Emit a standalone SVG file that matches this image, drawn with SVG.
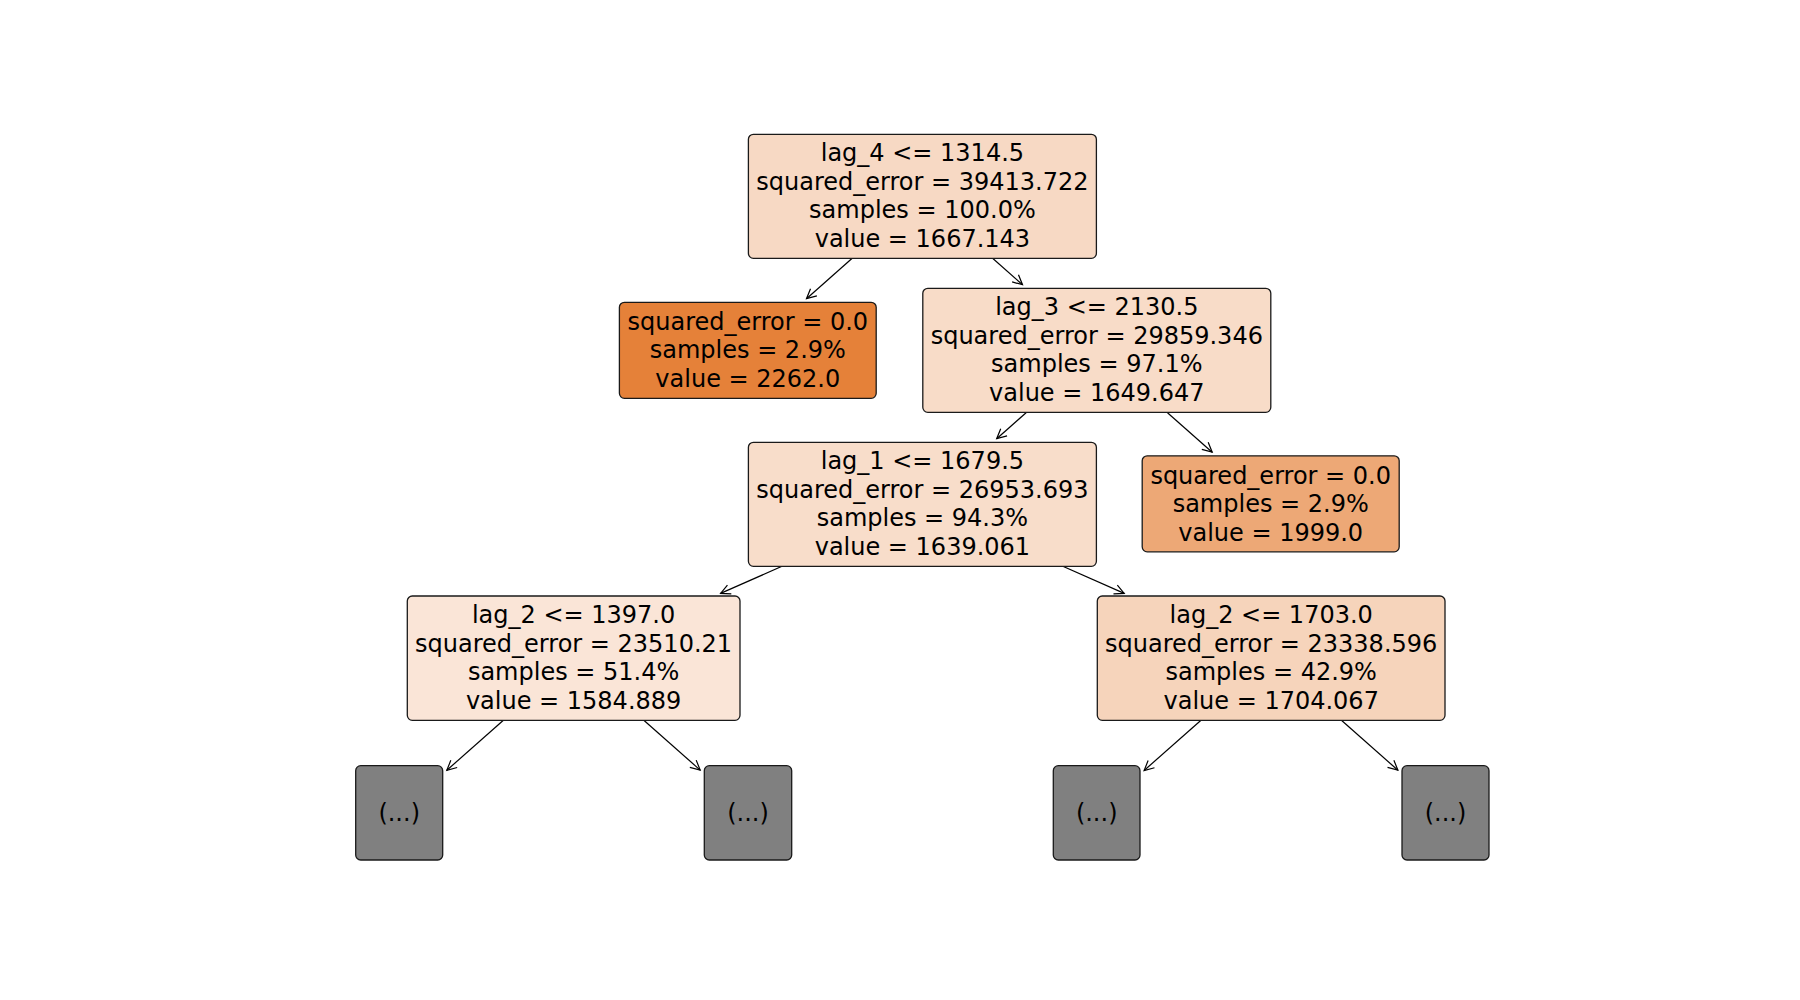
<svg xmlns="http://www.w3.org/2000/svg" width="1800" height="1000" viewBox="0 0 1800 1000">
  <style>
    .box { stroke: #1a1a1a; stroke-width: 1.3; }
    .lbl { font-family: "DejaVu Sans", "Liberation Sans", sans-serif; font-size: 24px; fill: #000; text-anchor: middle; }
    .edge { stroke: #000; stroke-width: 1.2; fill: none; marker-end: url(#head); }
    .trunc { fill: #808080; }
  </style>
  <defs>
    <marker id="head" markerUnits="userSpaceOnUse" viewBox="-12 -7 14 14" refX="0" refY="0" markerWidth="14" markerHeight="14" orient="auto" overflow="visible">
      <path d="M-9.6,-4.8 L0,0 L-9.6,4.8" fill="none" stroke="#000" stroke-width="1.2"/>
    </marker>
  </defs>
  <rect width="1800" height="1000" fill="#fff"/>

  <!-- connectors: parent box bottom to arrow tip near child -->
  <g id="edges">
    <line class="edge" x1="852.2" y1="258.3" x2="806.5" y2="298.7"/>
    <line class="edge" x1="992.6" y1="258.3" x2="1022.5" y2="284.7"/>
    <line class="edge" x1="1026.1" y1="412.7" x2="996.7" y2="438.7"/>
    <line class="edge" x1="1167.5" y1="412.7" x2="1212.2" y2="452.2"/>
    <line class="edge" x1="782.0" y1="566.3" x2="720.6" y2="593.4"/>
    <line class="edge" x1="1062.8" y1="566.3" x2="1124.2" y2="593.4"/>
    <line class="edge" x1="503.4" y1="720.3" x2="446.8" y2="770.3"/>
    <line class="edge" x1="643.8" y1="720.3" x2="700.2" y2="770.1"/>
    <line class="edge" x1="1201.0" y1="720.3" x2="1144.1" y2="770.5"/>
    <line class="edge" x1="1341.4" y1="720.3" x2="1397.9" y2="770.2"/>
  </g>

  <!-- root split -->
  <g id="node-root">
    <rect class="box" x="748.4" y="134.3" width="348" height="124" rx="5" fill="#f7d9c4"/>
    <text class="lbl" x="922.4" y="161">lag_4 &lt;= 1314.5</text>
    <text class="lbl" x="922.4" y="189.6">squared_error = 39413.722</text>
    <text class="lbl" x="922.4" y="218.2">samples = 100.0%</text>
    <text class="lbl" x="922.4" y="246.8">value = 1667.143</text>
  </g>

  <g id="node-leaf-2262">
    <rect class="box" x="619.4" y="302.3" width="256.8" height="96" rx="5" fill="#e58139"/>
    <text class="lbl" x="747.8" y="329.7">squared_error = 0.0</text>
    <text class="lbl" x="747.8" y="358.3">samples = 2.9%</text>
    <text class="lbl" x="747.8" y="386.9">value = 2262.0</text>
  </g>

  <g id="node-lag3">
    <rect class="box" x="922.8" y="288.3" width="348" height="124" rx="5" fill="#f8dcc8"/>
    <text class="lbl" x="1096.8" y="315">lag_3 &lt;= 2130.5</text>
    <text class="lbl" x="1096.8" y="343.6">squared_error = 29859.346</text>
    <text class="lbl" x="1096.8" y="372.2">samples = 97.1%</text>
    <text class="lbl" x="1096.8" y="400.8">value = 1649.647</text>
  </g>

  <g id="node-lag1">
    <rect class="box" x="748.4" y="442.3" width="348" height="124" rx="5" fill="#f8ddca"/>
    <text class="lbl" x="922.4" y="469">lag_1 &lt;= 1679.5</text>
    <text class="lbl" x="922.4" y="497.6">squared_error = 26953.693</text>
    <text class="lbl" x="922.4" y="526.2">samples = 94.3%</text>
    <text class="lbl" x="922.4" y="554.8">value = 1639.061</text>
  </g>

  <g id="node-leaf-1999">
    <rect class="box" x="1142.2" y="455.8" width="257" height="96" rx="5" fill="#eda876"/>
    <text class="lbl" x="1270.7" y="483.7">squared_error = 0.0</text>
    <text class="lbl" x="1270.7" y="512.3">samples = 2.9%</text>
    <text class="lbl" x="1270.7" y="540.9">value = 1999.0</text>
  </g>

  <g id="node-lag2-left">
    <rect class="box" x="407.3" y="596" width="332.7" height="124.3" rx="5" fill="#fae5d7"/>
    <text class="lbl" x="573.6" y="623">lag_2 &lt;= 1397.0</text>
    <text class="lbl" x="573.6" y="651.6">squared_error = 23510.21</text>
    <text class="lbl" x="573.6" y="680.2">samples = 51.4%</text>
    <text class="lbl" x="573.6" y="708.8">value = 1584.889</text>
  </g>

  <g id="node-lag2-right">
    <rect class="box" x="1097.3" y="596" width="347.7" height="124.3" rx="5" fill="#f6d4bb"/>
    <text class="lbl" x="1271.2" y="623">lag_2 &lt;= 1703.0</text>
    <text class="lbl" x="1271.2" y="651.6">squared_error = 23338.596</text>
    <text class="lbl" x="1271.2" y="680.2">samples = 42.9%</text>
    <text class="lbl" x="1271.2" y="708.8">value = 1704.067</text>
  </g>

  <!-- truncated subtrees -->
  <g id="node-trunc-1">
    <rect class="box trunc" x="355.7" y="765.7" width="87" height="94.3" rx="5"/>
    <text class="lbl" x="399.2" y="820.8">(...)</text>
  </g>
  <g id="node-trunc-2">
    <rect class="box trunc" x="704.3" y="765.7" width="87.4" height="94.3" rx="5"/>
    <text class="lbl" x="748" y="820.8">(...)</text>
  </g>
  <g id="node-trunc-3">
    <rect class="box trunc" x="1053.3" y="765.7" width="86.7" height="94.3" rx="5"/>
    <text class="lbl" x="1096.7" y="820.8">(...)</text>
  </g>
  <g id="node-trunc-4">
    <rect class="box trunc" x="1402" y="765.7" width="87" height="94.3" rx="5"/>
    <text class="lbl" x="1445.5" y="820.8">(...)</text>
  </g>
</svg>
